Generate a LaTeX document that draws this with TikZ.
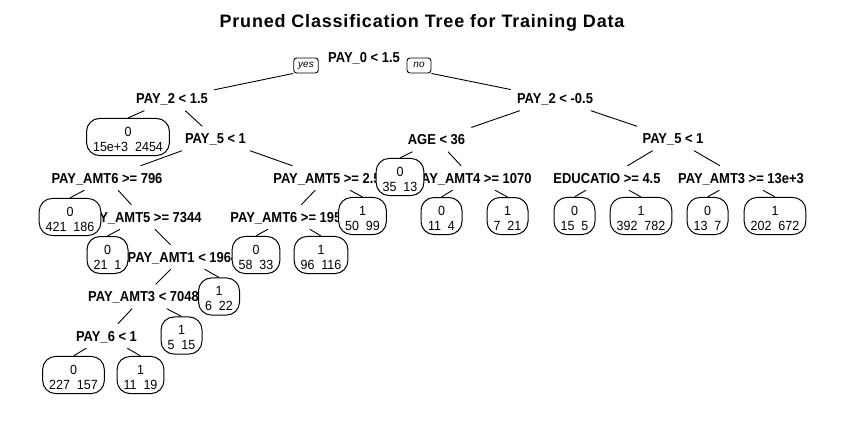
\documentclass[tikz,border=0pt]{standalone}
\usepackage{fontspec}
\setmainfont{Liberation Sans}
\newfontfamily\titlefont{Liberation Sans}[LetterSpace=4.5]
\newfontfamily\labfont{Liberation Sans}[FakeStretch=0.9]
\newfontfamily\leaffont{Liberation Sans}[FakeStretch=0.94]
\begin{document}
\begin{tikzpicture}[x=1pt,y=-1pt]
\tikzset{
  split/.style={font=\labfont\fontsize{14.4}{16}\selectfont\bfseries, text height=10pt, text depth=0pt, inner xsep=6pt, inner ysep=7pt},
  leaf/.style={draw, fill=white, rounded corners=13pt, line width=1pt, font=\leaffont\fontsize{13.3}{15}\selectfont, align=center, inner xsep=6.5pt, inner ysep=4pt, minimum width=41pt},
  yn/.style={draw, rounded corners=3pt, line width=0.9pt, font=\fontsize{10}{12}\selectfont\itshape, inner xsep=4.5pt, inner ysep=0pt, text height=7pt, text depth=2.5pt, minimum height=15pt},
  br/.style={line width=0.9pt}
}
\useasboundingbox[fill=white] (0,0) rectangle (845,423);
\node[font=\titlefont\fontsize{18}{20}\selectfont\bfseries, inner sep=0pt, text height=13pt, text depth=0pt] (title) at (422,21) {Pruned Classification Tree for Training Data};
% split nodes
\node[split] (root) at (364,57.5) {PAY\_0 < 1.5};
\node[yn] (yes) at (306,65.5) {yes};
\node[yn, minimum width=24pt] (no) at (419,65.5) {no};
\node[split] (a) at (172,98.5) {PAY\_2 < 1.5};
\node[split] (b) at (555,98.5) {PAY\_2 < -0.5};
\node[split] (a2) at (215.5,138.5) {PAY\_5 < 1};
\node[split] (b1) at (436.5,139.5) {AGE < 36};
\node[split] (b2) at (673,138.5) {PAY\_5 < 1};
\node[split] (c1) at (107,178) {PAY\_AMT6 >= 796};
\node[split] (c2) at (327,178) {PAY\_AMT5 >= 2.5};
\node[split] (c3) at (472.5,178) {PAY\_AMT4 >= 1070};
\node[split] (c4) at (607,178) {EDUCATIO >= 4.5};
\node[split] (c5) at (741,178) {PAY\_AMT3 >= 13e+3};
\node[split] (d1) at (142.5,217) {PAY\_AMT5 >= 7344};
\node[split] (d2) at (289.5,217) {PAY\_AMT6 >= 195\phantom{0}};
\node[split] (e1) at (183,257) {PAY\_AMT1 < 1964};
\node[split] (f1) at (143.5,296.5) {PAY\_AMT3 < 7048};
\node[split] (g1) at (106.5,336) {PAY\_6 < 1};
% leaves
\node[leaf] (l1) at (128,137) {\rule{0pt}{14pt}0\\15e+3~~2454};
\node[leaf] (l2) at (400,177) {\rule{0pt}{14pt}0\\35~~13};
\node[leaf] (l3) at (362.5,216) {\rule{0pt}{14pt}1\\50~~99};
\node[leaf] (l4) at (441.5,216) {\rule{0pt}{14pt}0\\11~~4};
\node[leaf] (l5) at (507.5,216) {\rule{0pt}{14pt}1\\7~~21};
\node[leaf] (l6) at (574.5,216) {\rule{0pt}{14pt}0\\15~~5};
\node[leaf] (l7) at (641,216) {\rule{0pt}{14pt}1\\392~~782};
\node[leaf] (l8) at (707.5,216) {\rule{0pt}{14pt}0\\13~~7};
\node[leaf] (l9) at (775,216) {\rule{0pt}{14pt}1\\202~~672};
\node[leaf] (l10) at (70,217) {\rule{0pt}{14pt}0\\421~~186};
\node[leaf] (l11) at (107.5,255) {\rule{0pt}{14pt}0\\21~~1};
\node[leaf] (l12) at (256,255) {\rule{0pt}{14pt}0\\58~~33};
\node[leaf] (l13) at (321,255) {\rule{0pt}{14pt}1\\96~~116};
\node[leaf] (l14) at (219,296.5) {\rule{0pt}{14pt}1\\6~~22};
\node[leaf] (l15) at (181.5,335.5) {\rule{0pt}{14pt}1\\5~~15};
\node[leaf] (l16) at (73.5,375) {\rule{0pt}{14pt}0\\227~~157};
\node[leaf] (l17) at (140.5,375) {\rule{0pt}{14pt}1\\11~~19};
% branches
\draw[br] (yes.south west) -- (a);
\draw[br] (no.south east) -- (b);
\draw[br] (a) -- (l1.north);
\draw[br] (a) -- (a2);
\draw[br] (b) -- (b1);
\draw[br] (b) -- (b2);
\draw[br] (a2) -- (c1);
\draw[br] (a2) -- (c2);
\draw[br] (b1) -- (l2.north);
\draw[br] (b1) -- (c3);
\draw[br] (b2) -- (c4);
\draw[br] (b2) -- (c5);
\draw[br] (c1) -- (l10.north);
\draw[br] (c1) -- (d1);
\draw[br] (c2) -- (d2);
\draw[br] (c2) -- (l3.north);
\draw[br] (c3) -- (l4.north);
\draw[br] (c3) -- (l5.north);
\draw[br] (c4) -- (l6.north);
\draw[br] (c4) -- (l7.north);
\draw[br] (c5) -- (l8.north);
\draw[br] (c5) -- (l9.north);
\draw[br] (d1) -- (l11.north);
\draw[br] (d1) -- (e1);
\draw[br] (d2) -- (l12.north);
\draw[br] (d2) -- (l13.north);
\draw[br] (e1) -- (f1);
\draw[br] (e1) -- (l14.north);
\draw[br] (f1) -- (g1);
\draw[br] (f1) -- (l15.north);
\draw[br] (g1) -- (l16.north);
\draw[br] (g1) -- (l17.north);
\end{tikzpicture}
\end{document}
